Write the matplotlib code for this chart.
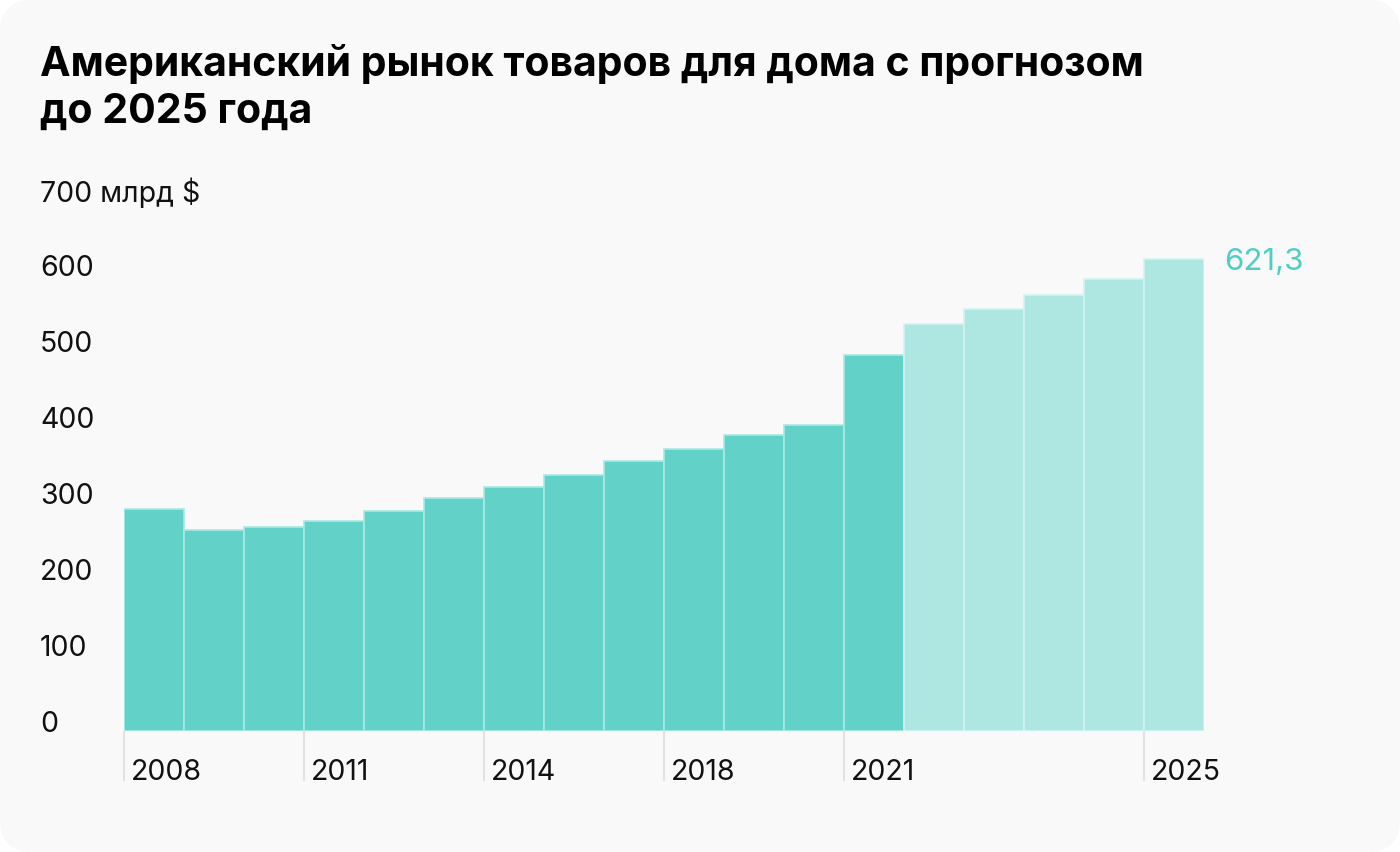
import matplotlib
matplotlib.use("Agg")
import matplotlib.pyplot as plt
from matplotlib.patches import FancyBboxPatch

# ---- data ----
categories = ['2008', '2009', '2010', '2011', '2012', '2013', '2014', '2015', '2016',
              '2018', '2019', '2020', '2021', '2022', '2023', '2024', '2024b', '2025']
values = [292, 264, 268, 276, 289, 307, 321, 337, 355, 371, 389, 403, 495,
          536, 555, 574, 595, 621.3]
forecast = [False] * 13 + [True] * 5
tick_idx = [0, 3, 6, 9, 12, 17]
tick_labels = ['2008', '2011', '2014', '2018', '2021', '2025']
y_ticks = [0, 100, 200, 300, 400, 500, 600, 700]
y_tick_labels = ['0', '100', '200', '300', '400', '500', '600', '700 млрд $']
last_label = '621,3'
title = 'Американский рынок товаров для дома с прогнозом\nдо 2025 года'

W, H = 1400, 852
plt.rcParams['font.family'] = ['Inter', 'DejaVu Sans']
fig = plt.figure(figsize=(W / 100, H / 100), dpi=100)
fig.patch.set_facecolor('white')

bg = FancyBboxPatch((0, 0), W, H, boxstyle='round,pad=0,rounding_size=32',
                    transform=None, facecolor='#f9f9f9', edgecolor='none', zorder=-10)
fig.patches.append(bg)

ax = fig.add_axes([124 / W, (H - 731) / H, 1080 / W, 532 / H])
ax.set_facecolor('none')
ax.set_xlim(-0.5, len(values) - 0.5)
ax.set_ylim(0, 700)
for s in ax.spines.values():
    s.set_visible(False)
ax.set_xticks([])
ax.set_yticks([])

x = list(range(len(values)))
dark, light = '#62d2c9', '#aee6e2'
colors = [light if f else dark for f in forecast]
edges = ['#d3f3f0' if f else '#a9e9e3' for f in forecast]
ax.bar(x, values, width=1.0, color=colors, edgecolor=edges, linewidth=1.2, zorder=2)

px = 0.72  # points per pixel
fs = 20.5
# y labels
for v, lab in zip(y_ticks, y_tick_labels):
    ax.annotate(lab, xy=(40 / W, v), xycoords=(fig.transFigure, ax.transData),
                xytext=(0, 6 * px), textcoords='offset points',
                ha='left', va='center', fontsize=fs, color='#111111')

# x ticks and labels
for i, lab in zip(tick_idx, tick_labels):
    xe = i - 0.5
    ax.plot([xe, xe], [0, -50 / 0.76], color='#e2e2e2', lw=1.5,
            clip_on=False, zorder=1, solid_capstyle='butt')
    ax.annotate(lab, xy=(xe, 0), xycoords='data',
                xytext=(7 * px, -41 * px), textcoords='offset points',
                ha='left', va='center', fontsize=fs, color='#111111')

# value label on last bar
ax.annotate(last_label, xy=(len(values) - 0.5, values[-1]), xycoords='data',
            xytext=(20 * px, -11 * px), textcoords='offset points',
            ha='left', va='baseline', fontsize=22.5, color='#4fcfc4')

fig.text(40 / W, 1 - 44 / H, title, ha='left', va='top', fontsize=29.5,
         fontweight='bold', color='#000000', linespacing=1.3)

fig.savefig('out.png', dpi=100, facecolor=fig.get_facecolor())
